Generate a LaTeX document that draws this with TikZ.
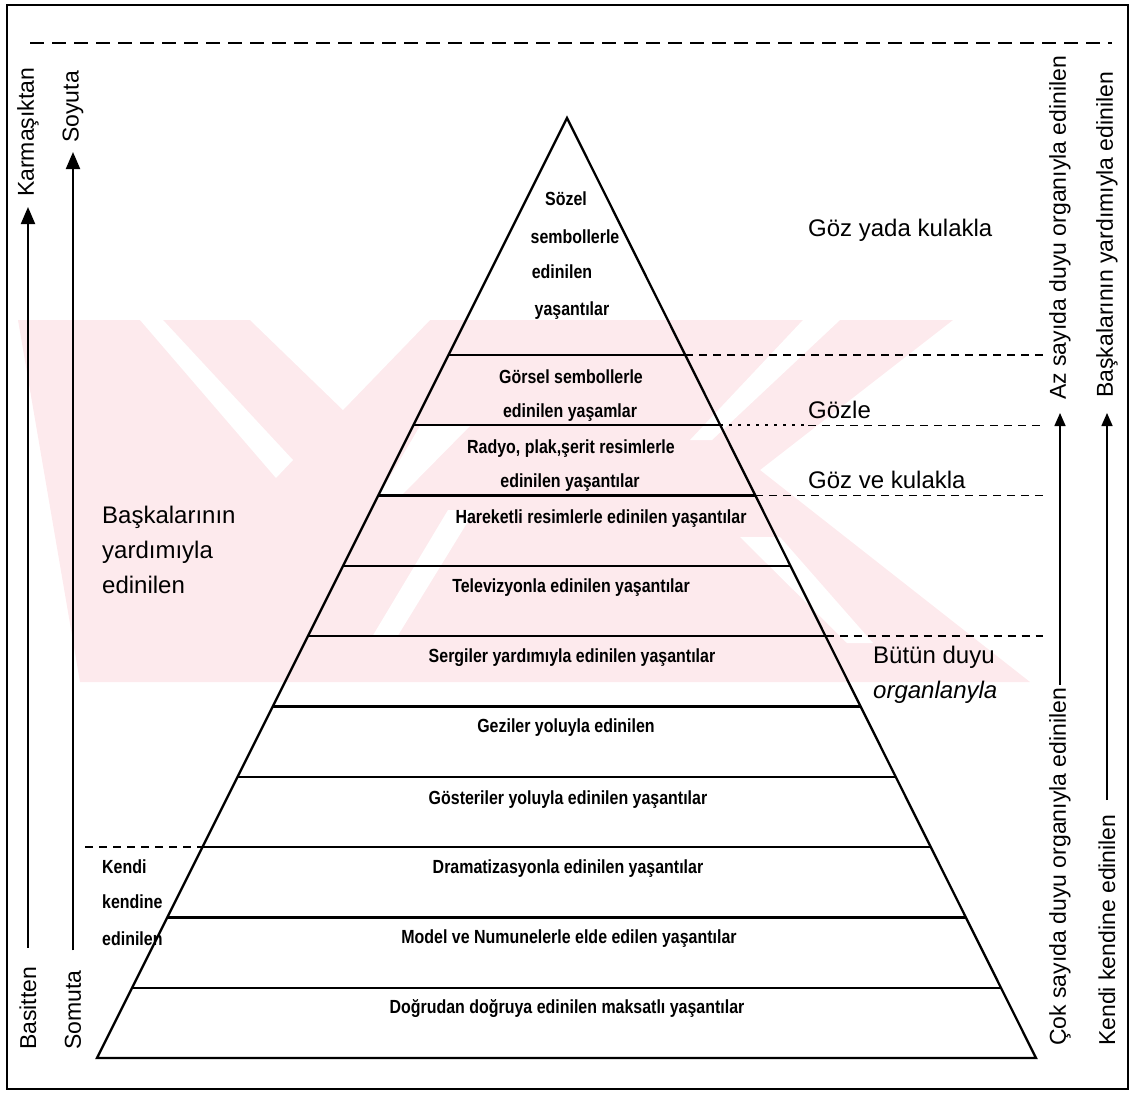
\documentclass[tikz,border=0pt]{standalone}
\usepackage{fontspec}
\setmainfont{Liberation Sans}
\newfontfamily\pyrfont[FakeStretch=0.84]{Liberation Sans}
\usetikzlibrary{arrows.meta,calc}
\definecolor{wmpink}{RGB}{253,234,237}
\tikzset{
  frameline/.style={line width=2.2pt},
  pyr/.style={line width=2.3pt},
  dsh/.style={line width=1.5pt, dash pattern=on 8pt off 6pt},
  dotline/.style={line width=2.4pt, dash pattern=on 3pt off 6pt},
  topdsh/.style={line width=1.8pt, dash pattern=on 14pt off 8pt},
  ptext/.style={font=\pyrfont\bfseries\fontsize{19}{21}\selectfont, inner sep=0pt, anchor=base},
  ktext/.style={ptext, anchor=base west},
  ltext/.style={font=\fontsize{24}{28}\selectfont, inner sep=0pt, anchor=base west},
  vtext/.style={font=\fontsize{23}{26}\selectfont, inner sep=0pt, rotate=90, anchor=west},
  bigarrow/.style={line width=2pt, -{Triangle[length=17pt,width=14pt]}},
  smallarrow/.style={line width=1.6pt, -{Triangle[length=13pt,width=11pt]}},
  wm/.style={fill=wmpink, draw=none},
  wmcut/.style={fill=white, draw=none}
}
\begin{document}
\begin{tikzpicture}[x=1pt,y=-1pt]
\useasboundingbox (0,0) rectangle (1137,1092);
% watermark
\fill[wm] (18,320) -- (953,320) -- (760,470) -- (1030,682) -- (80,682) -- cycle;
\fill[wmcut] (140,320) -- (163,320) -- (293,460) -- (276,478) -- cycle;
\fill[wmcut] (250,320) -- (430,320) -- (343,410) -- cycle;
\fill[wmcut] (803,320) -- (840,320) -- (712,440) -- (690,440) -- cycle;
\fill[wmcut] (420,426) -- (470,426) -- (400,497) -- (378,497) -- cycle;
\fill[wmcut] (448,510) -- (475,510) -- (397,637) -- (372,637) -- cycle;
\fill[wmcut] (740,537) -- (780,537) -- (873,643) -- (847,643) -- cycle;
% frame and top dashed line
\draw[frameline] (7,5) rectangle (1128,1089);
\draw[topdsh] (30,43) -- (1112,43);
% pyramid
\coordinate (apex) at (567,118);
\coordinate (bl) at (97,1058);
\coordinate (br) at (1036,1058);
\coordinate (rx) at (1043,0);
\coordinate (lx) at (85,0);
\draw[pyr, line join=miter] (apex) -- (bl) -- (br) -- cycle;
\foreach \k in {0,...,9}{
  \pgfmathsetmacro\t{(237+70.3*\k)/940}
  \draw[pyr] ($(apex)!\t!(bl)$) -- ($(apex)!\t!(br)$);
}
% right dashed lines
\foreach \k in {0,2,4}{
  \pgfmathsetmacro\t{(237+70.3*\k)/940}
  \path ($(apex)!\t!(br)$) coordinate (p\k);
  \draw[dsh] (p\k) -- (p\k -| rx);
}
\pgfmathsetmacro\tone{(237+70.3)/940}
\path ($(apex)!\tone!(br)$) coordinate (p1);
\coordinate (dotend) at (808,0);
\draw[dotline] (p1) -- (p1 -| dotend);
\draw[dsh] (p1 -| dotend) -- (p1 -| rx);
% left dashed line
\pgfmathsetmacro\tsev{(237+70.3*7)/940}
\path ($(apex)!\tsev!(bl)$) coordinate (q7);
\draw[dsh] (q7 -| lx) -- (q7);
% pyramid texts
\node[ptext] (sozel) at (566,205) {Sözel};
\node[ptext] (semb) at (575,243) {sembollerle};
\node[ptext] (edin1) at (562,278) {edinilen};
\node[ptext] (yas1) at (572,315) {yaşantılar};
\node[ptext] (gors) at (571,383) {Görsel sembollerle};
\node[ptext] (yasam) at (570,417) {edinilen yaşamlar};
\node[ptext] (radyo) at (571,453) {Radyo, plak,şerit resimlerle};
\node[ptext] (yas2) at (570,487) {edinilen yaşantılar};
\node[ptext] (hare) at (601,523) {Hareketli resimlerle edinilen yaşantılar};
\node[ptext] (tele) at (571,592) {Televizyonla edinilen yaşantılar};
\node[ptext] (serg) at (572,662) {Sergiler yardımıyla edinilen yaşantılar};
\node[ptext] (gez) at (566,732) {Geziler yoluyla edinilen};
\node[ptext] (gost) at (568,804) {Gösteriler yoluyla edinilen yaşantılar};
\node[ptext] (dram) at (568,873) {Dramatizasyonla edinilen yaşantılar};
\node[ptext] (model) at (569,943) {Model ve Numunelerle elde edilen yaşantılar};
\node[ptext] (dogr) at (567,1013) {Doğrudan doğruya edinilen maksatlı yaşantılar};
% left labels
\node[ltext] (bk1) at (102,523) {Başkalarının};
\node[ltext] (bk2) at (102,558) {yardımıyla};
\node[ltext] (bk3) at (102,593) {edinilen};
\node[ktext] (kk1) at (102,873) {Kendi};
\node[ktext] (kk2) at (102,908) {kendine};
\node[ktext] (kk3) at (102,945) {edinilen};
% right labels
\node[ltext] (gyk) at (808,236) {Göz yada kulakla};
\node[ltext] (gz) at (808,418) {Gözle};
\node[ltext] (gvk) at (808,488) {Göz ve kulakla};
\node[ltext] (bd1) at (873,663) {Bütün duyu};
\node[ltext, font=\itshape\fontsize{24}{28}\selectfont] (bd2) at (873,698) {organlanyla};
% vertical labels and arrows
\node[vtext] (karm) at (28,197) {Karmaşıktan};
\node[vtext] (basit) at (28,1050) {Basitten};
\node[vtext] (soy) at (73,143) {Soyuta};
\node[vtext] (som) at (73,1050) {Somuta};
\node[vtext] (az) at (1060,400) {Az sayıda duyu organıyla edinilen};
\node[vtext] (cok) at (1060,1046) {Çok sayıda duyu organıyla edinilen};
\node[vtext] (bask) at (1107,398) {Başkalarının yardımıyla edinilen};
\node[vtext] (kkend) at (1107,1046) {Kendi kendine edinilen};
\draw[bigarrow, shorten <=19pt, shorten >=10pt] (basit.east) -- (karm.west);
\draw[bigarrow, shorten <=20pt, shorten >=9pt] (som.east) -- (soy.west);
\draw[smallarrow, shorten <=3pt, shorten >=13pt] (cok.east) -- (az.west);
\draw[smallarrow, shorten <=14pt, shorten >=15pt] (kkend.east) -- (bask.west);
\end{tikzpicture}
\end{document}
